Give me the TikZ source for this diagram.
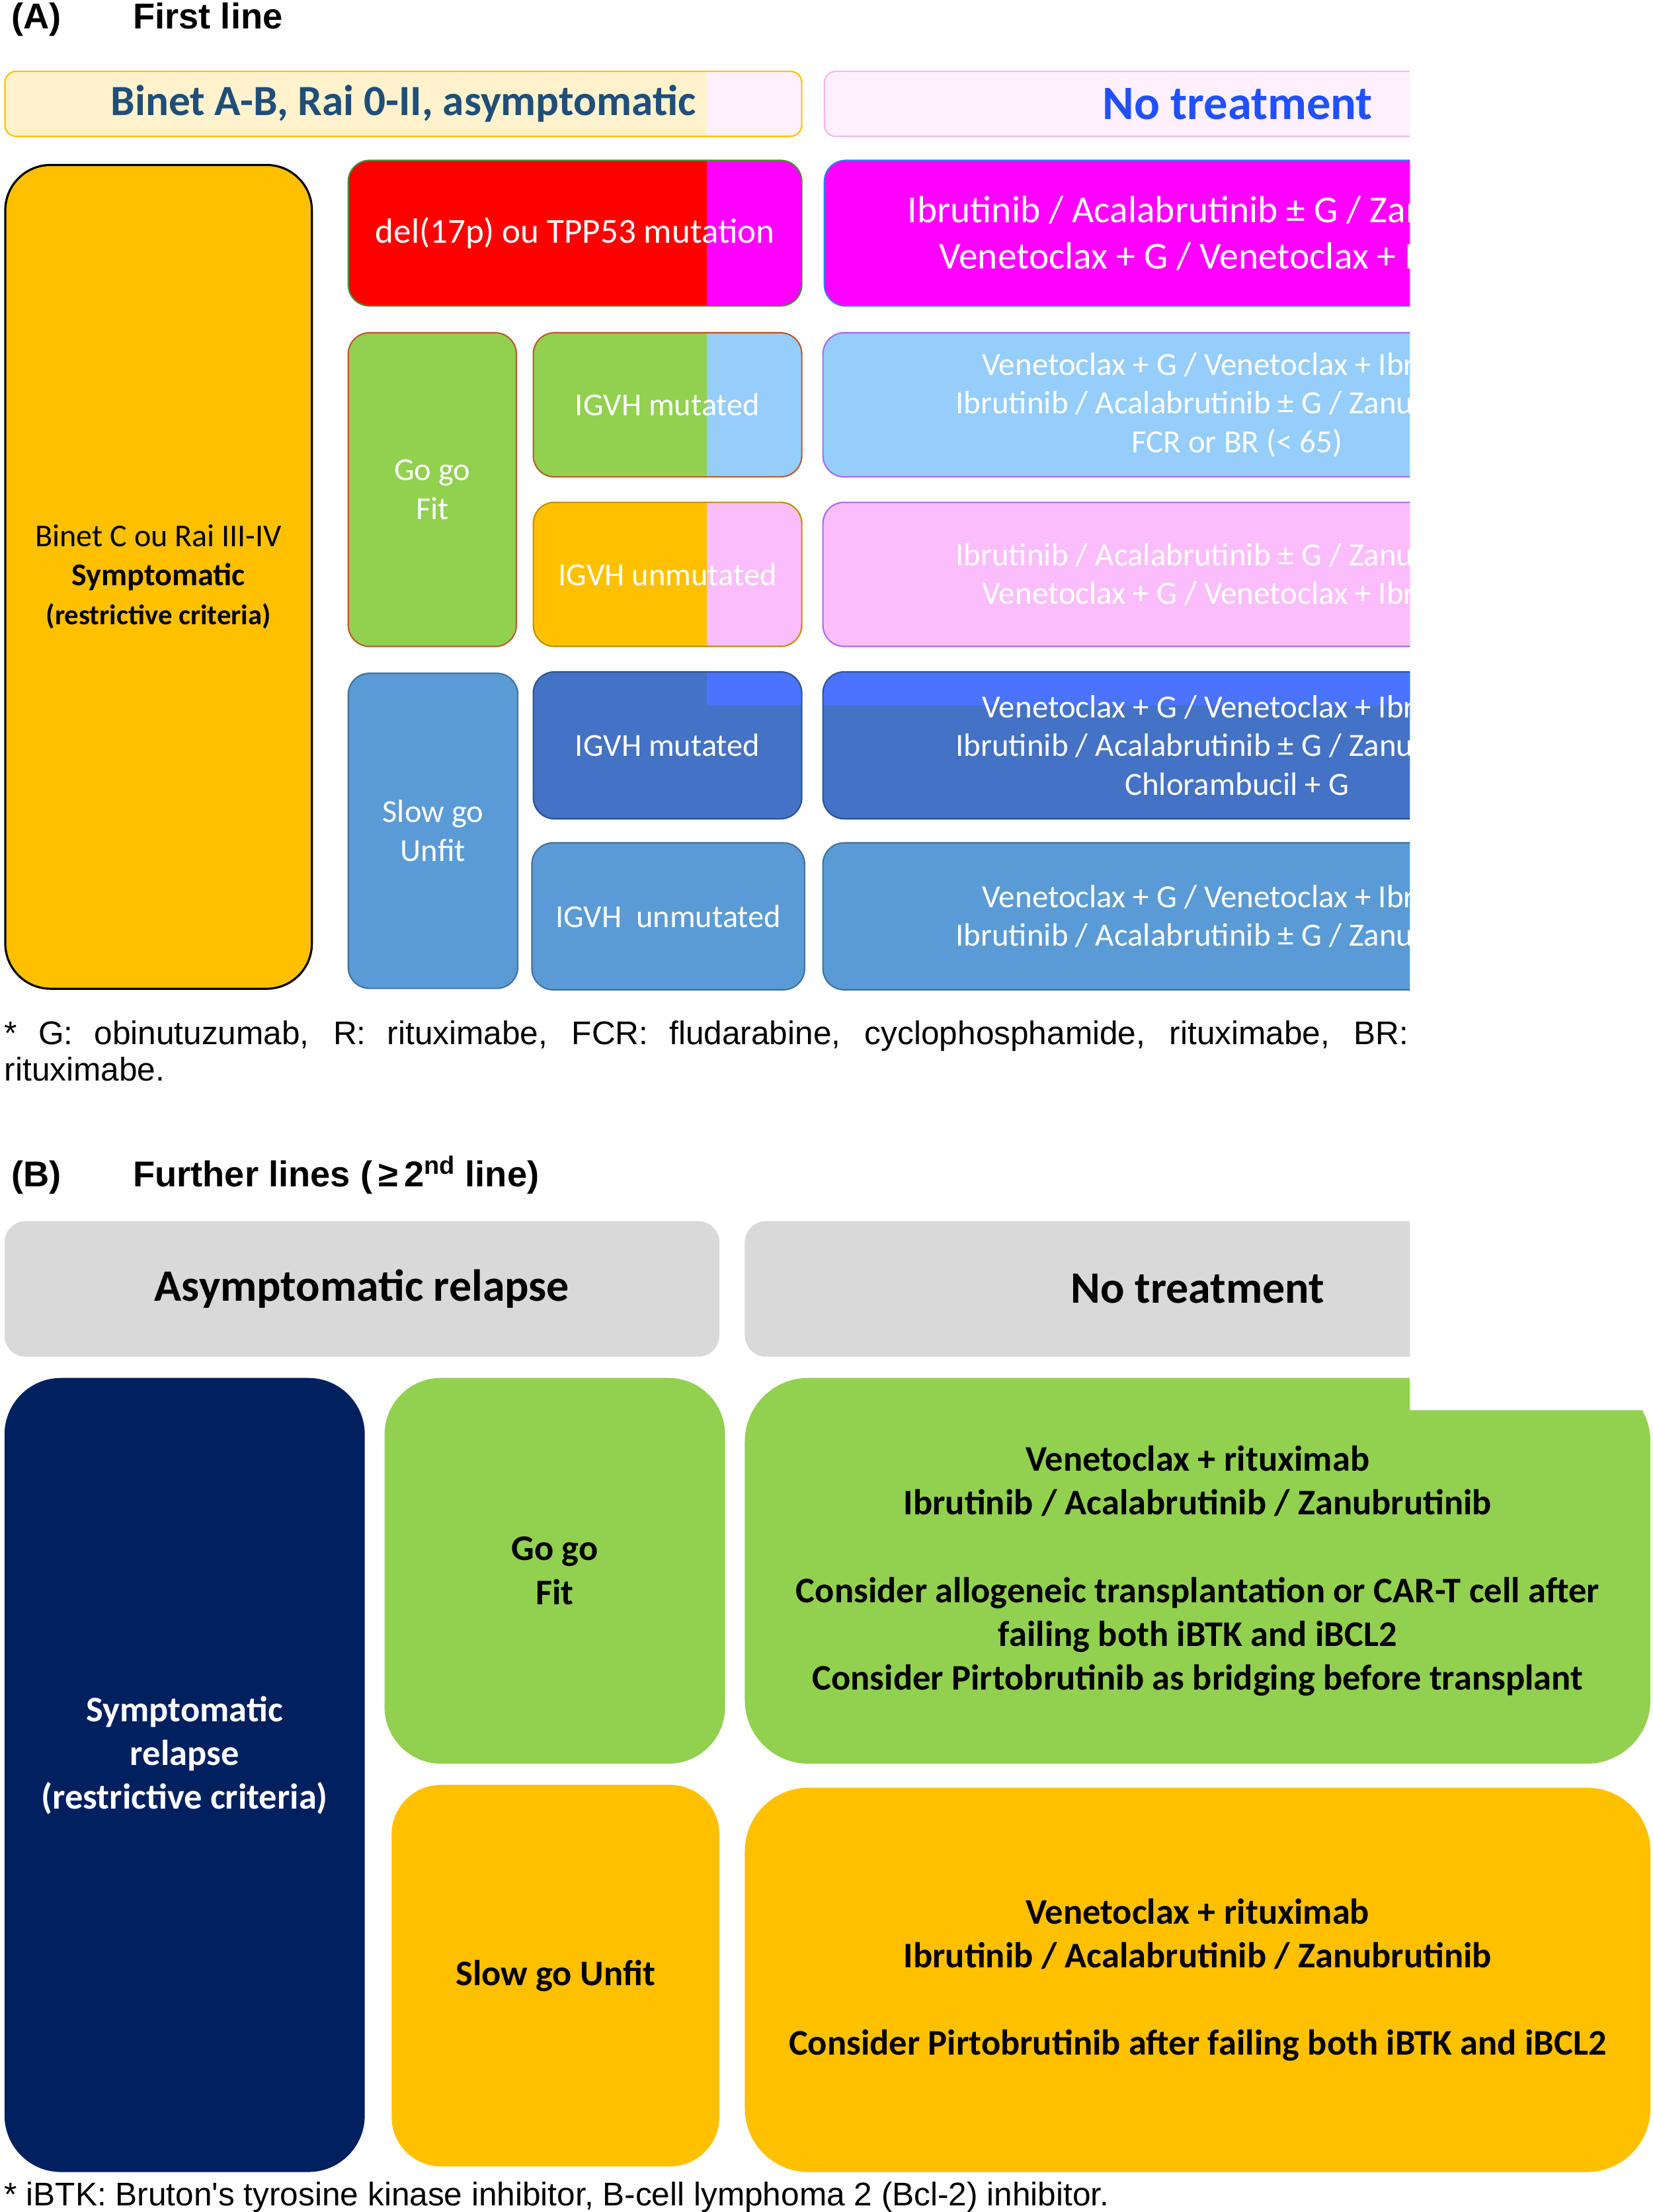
\documentclass[tikz,border=0pt]{standalone}
\usepackage{fontspec}
\setmainfont{Carlito}
\newfontfamily\arialfont{Liberation Sans}
\definecolor{cOrange}{HTML}{FFC000}
\definecolor{cGreen}{HTML}{92D050}
\definecolor{cSky}{HTML}{95CDFB}
\definecolor{cPink}{HTML}{FCBDFC}
\definecolor{cMagenta}{HTML}{FF00FF}
\definecolor{cRed}{HTML}{FF0000}
\definecolor{cMid}{HTML}{5B9BD5}
\definecolor{cDark}{HTML}{4472C4}
\definecolor{cBright}{HTML}{4A74FF}
\definecolor{cCream}{HTML}{FFF2CC}
\definecolor{cBlush}{HTML}{FFF0FC}
\definecolor{cInk}{HTML}{1F4E79}
\definecolor{cRoyal}{HTML}{2050FF}
\definecolor{cNavy}{HTML}{002060}
\definecolor{cGray}{HTML}{D9D9D9}
\definecolor{cBrown}{HTML}{B85C2E}
\definecolor{cGold}{HTML}{BF9000}
\definecolor{cSteel}{HTML}{41719C}
\definecolor{cDeep}{HTML}{2F528F}
\definecolor{cViolet}{HTML}{A66BF5}
\definecolor{cAzure}{HTML}{3C78F0}
\definecolor{cFern}{HTML}{4E8A3A}
\definecolor{cRose}{HTML}{FBB4F4}
\tikzset{
	cell/.style={draw, line width=1pt, rounded corners=15pt, anchor=north west, inner sep=0pt, align=center, text=white, font=\fontsize{22.7}{27.5}\selectfont},
	rightcut/.style={path picture={\fill[#1, sharp corners] ([xshift=-67pt]path picture bounding box.north east) rectangle (path picture bounding box.south east);}},
	topcut/.style={path picture={\fill[#1, sharp corners] ([xshift=-67pt]path picture bounding box.north east) rectangle ([yshift=-24pt]path picture bounding box.north east);}},
	topband/.style={path picture={\fill[#1, sharp corners] (path picture bounding box.north west) rectangle ([yshift=-24pt]path picture bounding box.north east);}},
	block/.style={rounded corners=40pt, anchor=north west, inner sep=0pt, align=center, font=\bfseries\fontsize{25.5}{31}\selectfont},
	title/.style={anchor=base west, inner sep=0pt, font=\arialfont\bfseries\fontsize{25.4}{30}\selectfont},
	note/.style={anchor=base west, inner sep=0pt, font=\arialfont\fontsize{23.2}{26}\selectfont},
}
\begin{document}
\begin{tikzpicture}[x=1pt,y=-1pt]
	\useasboundingbox (0,0) rectangle (1170,1565.5);
	\begin{scope}
		\clip (0,0) -- (998,0) -- (998,998) -- (1170,998) -- (1170,1565.5) -- (0,1565.5) -- cycle;
		% (A) first line
		\node[title] (labA) at (8,20.5) {(A)};
		\node[title] (ttlA) at (94,20.5) {First line};
		\node[cell, fill=cCream, draw=cOrange, rightcut=cBlush, rounded corners=8pt, minimum width=564pt, minimum height=46pt, text=cInk, font=\bfseries\fontsize{30.5}{36}\selectfont] (hdrA) at (3,50) {Binet A-B, Rai 0-II, asymptomatic};
		\node[cell, fill=cBlush, draw=cRose, rounded corners=8pt, minimum width=585pt, minimum height=46pt, text=cRoyal, font=\bfseries\fontsize{33.9}{40}\selectfont] (notrtA) at (583,50) {No treatment};
		\node[cell, fill=cOrange, draw=black, line width=1.5pt, rounded corners=32pt, minimum width=217pt, minimum height=583pt, text=black, font=\fontsize{22.5}{27.5}\selectfont] (binetC) at (3,116) {Binet C ou Rai III-IV\\\textbf{Symptomatic}\\{\bfseries\fontsize{20}{24}\selectfont(restrictive criteria)}};
		\node[cell, fill=cRed, draw=cFern, rightcut=cMagenta, minimum width=321pt, minimum height=103pt, font=\fontsize{24.8}{30}\selectfont] (del17p) at (246,113) {del(17p) ou TPP53 mutation};
		\node[cell, fill=cMagenta, draw=cAzure, minimum width=586pt, minimum height=103pt, font=\fontsize{26.9}{33}\selectfont] (trtHigh) at (583,113) {Ibrutinib / Acalabrutinib ± G / Zanubrutinib\\Venetoclax + G / Venetoclax + Ibrutinib};
		% fit patients
		\node[cell, fill=cGreen, draw=cBrown, minimum width=119pt, minimum height=222pt] (gofitA) at (246,235) {Go go\\Fit};
		\node[cell, fill=cGreen, draw=cBrown, rightcut=cSky, minimum width=190pt, minimum height=102pt] (mutFit) at (377,235) {IGVH mutated};
		\node[cell, fill=cOrange, draw=cGold, rightcut=cPink, minimum width=190pt, minimum height=102pt] (unmutFit) at (377,355) {IGVH unmutated};
		\node[cell, fill=cSky, draw=cViolet, minimum width=586pt, minimum height=102pt, font=\fontsize{22.9}{27.5}\selectfont] (trtMutFit) at (582,235) {Venetoclax + G / Venetoclax + Ibrutinib\\Ibrutinib / Acalabrutinib ± G / Zanubrutinib\\FCR or BR (< 65)};
		\node[cell, fill=cPink, draw=cViolet, minimum width=586pt, minimum height=102pt, font=\fontsize{22.9}{27.5}\selectfont] (trtUnmutFit) at (582,355) {Ibrutinib / Acalabrutinib ± G / Zanubrutinib\\Venetoclax + G / Venetoclax + Ibrutinib};
		% unfit patients
		\node[cell, fill=cMid, draw=cSteel, minimum width=120pt, minimum height=223pt] (slowA) at (246,476) {Slow go\\Unfit};
		\node[cell, fill=cDark, draw=cDeep, topcut=cBright, minimum width=190pt, minimum height=104pt] (mutUnfit) at (377,475) {IGVH mutated};
		\node[cell, fill=cMid, draw=cSteel, minimum width=193pt, minimum height=104pt] (unmutUnfit) at (376,596) {IGVH\ \ unmutated};
		\node[cell, fill=cDark, draw=cDeep, topband=cBright, minimum width=586pt, minimum height=104pt, font=\fontsize{22.9}{27.5}\selectfont] (trtMutUnfit) at (582,475) {Venetoclax + G / Venetoclax + Ibrutinib\\Ibrutinib / Acalabrutinib ± G / Zanubrutinib\\Chlorambucil + G};
		\node[cell, fill=cMid, draw=cSteel, minimum width=586pt, minimum height=104pt, font=\fontsize{22.9}{27.5}\selectfont] (trtUnmutUnfit) at (582,596) {Venetoclax + G / Venetoclax + Ibrutinib\\Ibrutinib / Acalabrutinib ± G / Zanubrutinib};
		\node[note] (noteA) at (3,739) {\makebox[994pt][s]{* G: obinutuzumab, R: rituximabe, FCR: fludarabine, cyclophosphamide, rituximabe, BR:}};
		\node[note] (noteA2) at (3,765) {rituximabe.};
		% (B) further lines
		\node[title] (labB) at (8,840) {(B)};
		\node[title] (ttlB) at (94,840) {Further lines (\,≥\,2\textsuperscript{nd} line)};
		\node[block, fill=cGray, rounded corners=15pt, minimum width=506pt, minimum height=96pt, font=\bfseries\fontsize{31.8}{38}\selectfont] (hdrB) at (3,864) {Asymptomatic relapse};
		\node[block, fill=cGray, rounded corners=15pt, minimum width=641pt, minimum height=96pt, font=\bfseries\fontsize{31.8}{38}\selectfont] (notrtB) at (527,864) {No treatment};
		\node[block, fill=cNavy, minimum width=255pt, minimum height=562pt] (sympB) at (3,975) {};
		\node[align=center, inner sep=0pt, text=white, font=\bfseries\fontsize{25.5}{31}\selectfont] (sympBtext) at ([yshift=14pt]sympB.center) {Symptomatic\\relapse\\(restrictive criteria)};
		\node[block, fill=cGreen, minimum width=241pt, minimum height=273pt] (gofitB) at (272,975) {Go go\\Fit};
		\node[block, fill=cGreen, rounded corners=45pt, minimum width=641pt, minimum height=273pt] (trtFitB) at (527,975) {Venetoclax + rituximab\\Ibrutinib / Acalabrutinib / Zanubrutinib\\[31pt]Consider allogeneic transplantation or CAR-T cell after\\failing both iBTK and iBCL2\\Consider Pirtobrutinib as bridging before transplant};
		\node[block, fill=cOrange, rounded corners=35pt, minimum width=232pt, minimum height=270pt] (slowB) at (277,1263) {Slow go Unfit};
		\node[block, fill=cOrange, rounded corners=45pt, minimum width=641pt, minimum height=272pt] (trtUnfitB) at (527,1265) {Venetoclax + rituximab\\Ibrutinib / Acalabrutinib / Zanubrutinib\\[31pt]Consider Pirtobrutinib after failing both iBTK and iBCL2};
		\node[note] (noteB) at (3,1561) {* iBTK: Bruton's tyrosine kinase inhibitor, B-cell lymphoma 2 (Bcl-2) inhibitor.};
	\end{scope}
\end{tikzpicture}
\end{document}
